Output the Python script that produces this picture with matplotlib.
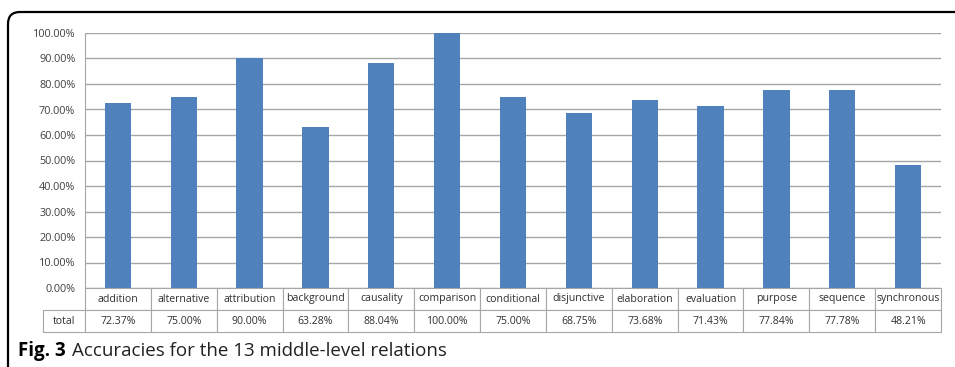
import matplotlib.pyplot as plt
from matplotlib.patches import FancyBboxPatch
from matplotlib.transforms import IdentityTransform

# data
categories = ["addition", "alternative", "attribution", "background", "causality",
              "comparison", "conditional", "disjunctive", "elaboration", "evaluation",
              "purpose", "sequence", "synchronous"]
accuracy = [72.37, 75.00, 90.00, 63.28, 88.04, 100.00, 75.00, 68.75,
            73.68, 71.43, 77.84, 77.78, 48.21]
yticks = [0, 10, 20, 30, 40, 50, 60, 70, 80, 90, 100]

W, H = 955, 367
bar_color = "#4F81BD"
grid_color = "#A6A6A6"
plt.rcParams["font.family"] = ["Open Sans", "DejaVu Sans"]

fig = plt.figure(figsize=(W / 100, H / 100), dpi=100)

# plot area in pixels
left, right, top, bottom = 85, 941, 33, 288
ax = fig.add_axes([left / W, (H - bottom) / H, (right - left) / W, (bottom - top) / H])

x = range(len(categories))
ax.bar(x, accuracy, width=0.4, color=bar_color, zorder=3)
ax.set_xlim(-0.5, len(categories) - 0.5)
ax.set_ylim(0, 100)
ax.set_yticks(yticks)
ax.set_yticklabels([f"{v:.2f}%" for v in yticks], fontsize=7.8, color="#404040")
ax.set_xticks([])
ax.tick_params(axis="y", length=0, pad=7)
ax.yaxis.grid(True, color=grid_color, linewidth=1, zorder=0)
for s in ["top", "right", "bottom"]:
    ax.spines[s].set_visible(False)
ax.spines["left"].set_color(grid_color)

# data table under the bars
label_w = 42 / (right - left) * len(categories)
cell_text = [[""] + categories, ["total"] + [f"{v:.2f}%" for v in accuracy]]
col_w = [label_w] + [1] * len(categories)
tot = sum(col_w)
col_w = [c / tot for c in col_w]
tab_h = (332 - 288) / (bottom - top)
tab_x0 = -42 / (right - left)
tab_w = (right - left + 42) / (right - left)
tab = ax.table(cellText=cell_text, colWidths=col_w, cellLoc="center",
               bbox=[tab_x0, -tab_h, tab_w, tab_h])
tab.auto_set_font_size(False)
tab.set_fontsize(7.6)
for (r, c), cell in tab.get_celld().items():
    cell.set_edgecolor(grid_color)
    cell.set_linewidth(0.8)
    cell.get_text().set_color("#303030")
tab[0, 0].visible_edges = ""

# rounded frame around the figure panel
frame = FancyBboxPatch((8, -40), 1000, H - 12 + 40,
                       boxstyle="round,pad=0,rounding_size=12",
                       transform=IdentityTransform(), fill=False,
                       edgecolor="black", linewidth=1.6, clip_on=False)
fig.patches.append(frame)

# caption
t1 = fig.text(18 / W, 1 - 351 / H, "Fig. 3", fontsize=13.5, fontweight="bold",
              va="center", ha="left")
fig.canvas.draw()
bb = t1.get_window_extent()
fig.text((bb.x1 + 6) / W, 1 - 351 / H, "Accuracies for the 13 middle-level relations",
         fontsize=13.5, va="center", ha="left", color="#222222")

fig.savefig("out.png", dpi=100)
